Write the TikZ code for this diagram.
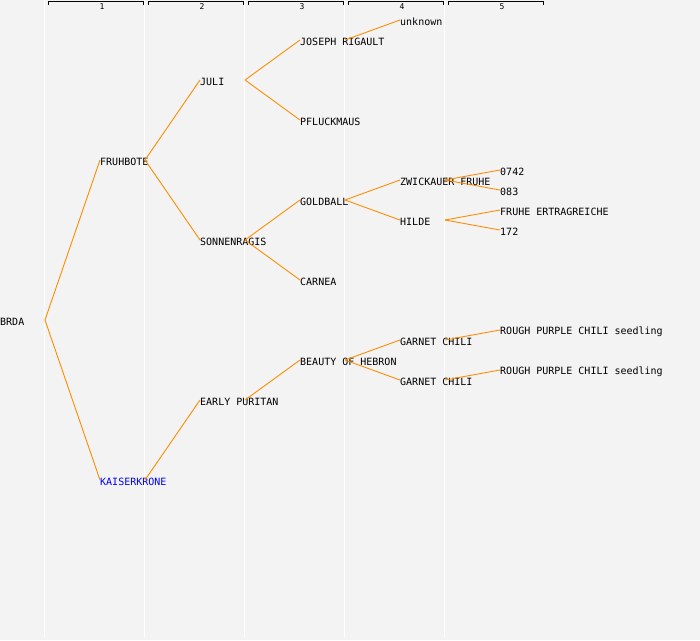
\documentclass[tikz,border=0pt]{standalone}
\usepackage{fontspec}
\setmonofont{DejaVu Sans Mono}
\definecolor{edgeorange}{RGB}{255,140,0}
\begin{document}
\begin{tikzpicture}[x=1pt,y=-1pt,
  lbl/.style={anchor=west,inner sep=0pt,font=\ttfamily\fontsize{10}{12}\selectfont,text=black},
  edge/.style={draw=edgeorange,line width=0.9pt},
  colline/.style={draw=white,line width=1.5pt},
  bracket/.style={draw=black,line width=0.9pt},
  hdr/.style={inner sep=0pt,font=\ttfamily\fontsize{8}{9}\selectfont}]
\useasboundingbox[fill={rgb,255:red,243;green,243;blue,243}] (0,0) rectangle (700,640);
% column lines
\foreach \k in {0,1,2,3,4} {\draw[colline] (\k*100+44.5,0) -- (\k*100+44.5,637);}
% header brackets
\foreach \k in {1,...,5} {
  \draw[bracket] (\k*100-52,4.5) -- (\k*100-52,1.5) -- (\k*100+43,1.5) -- (\k*100+43,4.5);
  \node[hdr] (h\k) at (\k*100+2,6.5) {\k};
}
% nodes: name, column, line y, text
\newcommand{\tnode}[5][black]{%
  \coordinate (#2-in) at (#3*100,#4);
  \coordinate (#2-out) at (#3*100+45,#4);
  \node[lbl,text=#1] (#2) at (#3*100,#4+2) {#5};}
\tnode{brda}{0}{320}{BRDA}
\tnode{fru}{1}{160}{FRUHBOTE}
\tnode[blue]{kai}{1}{480}{KAISERKRONE}
\tnode{juli}{2}{80}{JULI}
\tnode{son}{2}{240}{SONNENRAGIS}
\tnode{early}{2}{400}{EARLY PURITAN}
\tnode{jos}{3}{40}{JOSEPH RIGAULT}
\tnode{pfl}{3}{120}{PFLUCKMAUS}
\tnode{gold}{3}{200}{GOLDBALL}
\tnode{carn}{3}{280}{CARNEA}
\tnode{beau}{3}{360}{BEAUTY OF HEBRON}
\tnode{unk}{4}{20}{unknown}
\tnode{zwi}{4}{180}{ZWICKAUER FRUHE}
\tnode{hil}{4}{220}{HILDE}
\tnode{gara}{4}{340}{GARNET CHILI}
\tnode{garb}{4}{380}{GARNET CHILI}
\tnode{z1}{5}{170}{0742}
\tnode{z2}{5}{190}{083}
\tnode{h1}{5}{210}{FRUHE ERTRAGREICHE}
\tnode{h2}{5}{230}{172}
\tnode{ra}{5}{330}{ROUGH PURPLE CHILI seedling}
\tnode{rb}{5}{370}{ROUGH PURPLE CHILI seedling}
% edges
\foreach \p/\c in {brda/fru,brda/kai,fru/juli,fru/son,kai/early,juli/jos,juli/pfl,
  son/gold,son/carn,early/beau,jos/unk,gold/zwi,gold/hil,beau/gara,beau/garb,
  zwi/z1,zwi/z2,hil/h1,hil/h2,gara/ra,garb/rb}
  {\draw[edge] (\p-out) -- (\c-in);}
\end{tikzpicture}
\end{document}
